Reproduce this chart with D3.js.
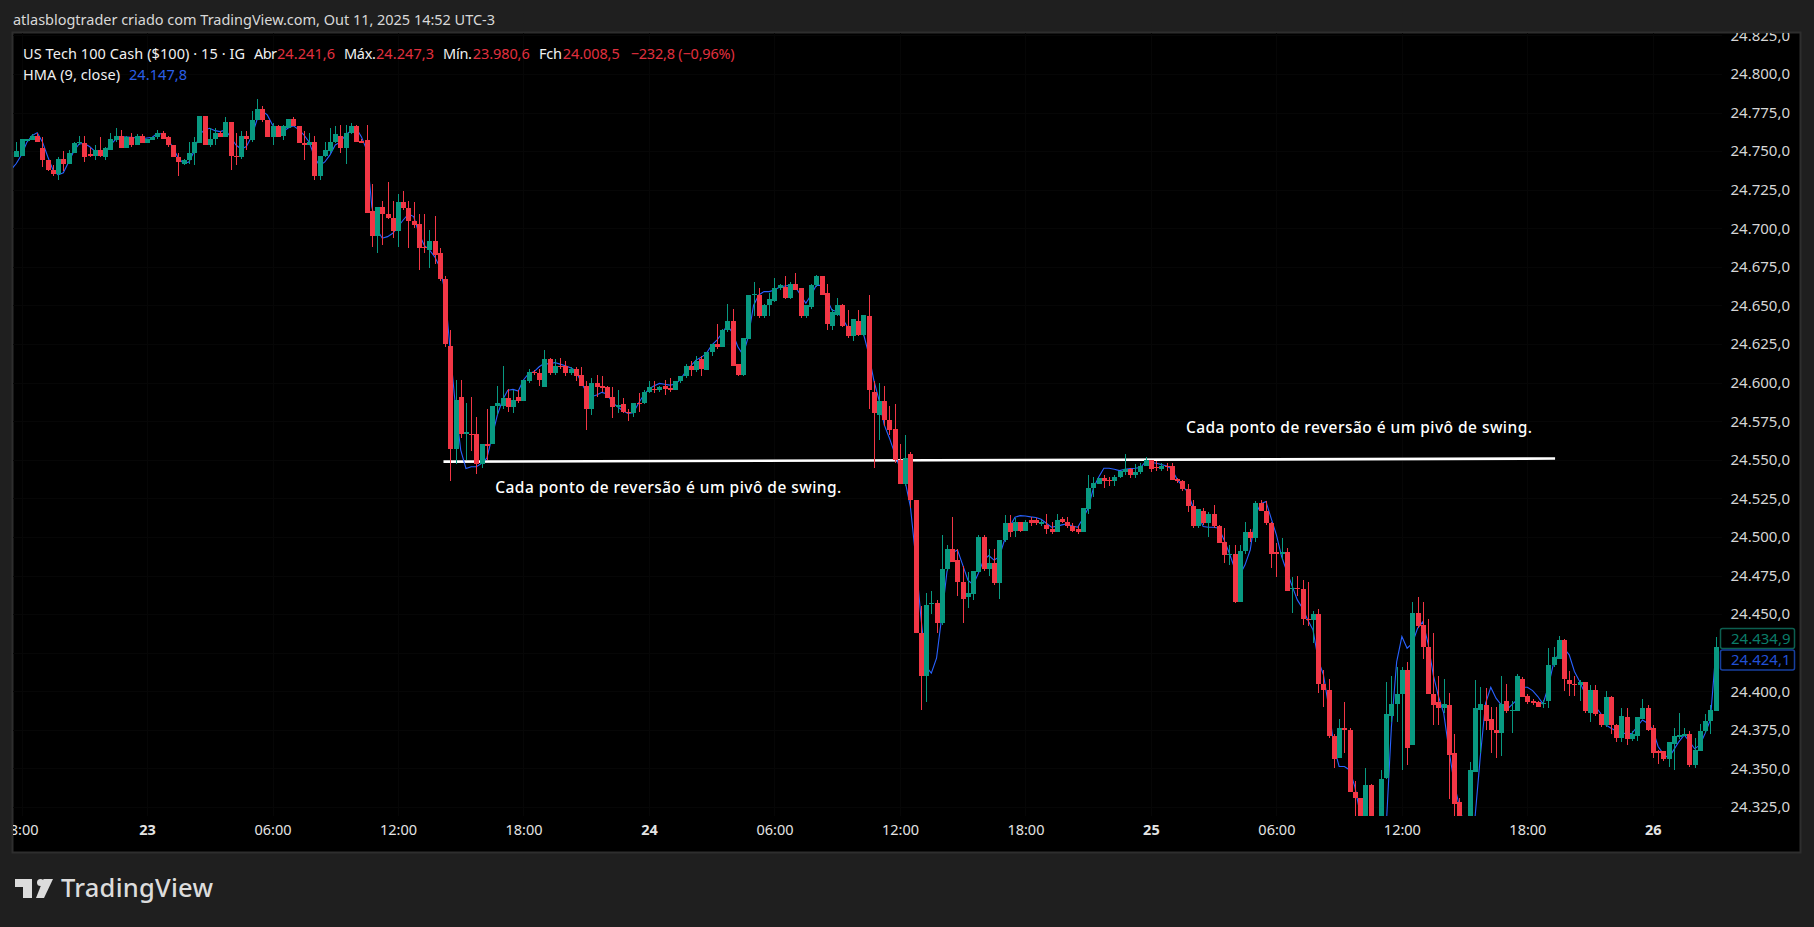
<!DOCTYPE html>
<html><head><meta charset="utf-8">
<style>html,body{margin:0;padding:0;background:#1f1f1f;overflow:hidden}svg{display:block}text{font-family:"Noto Sans",sans-serif}</style>
<script src="https://d3js.org/d3.v7.min.js"></script></head><body><svg id="c" width="1814" height="927"></svg>
<script>
const open=[24746,24747,24756.5,24757,24760,24752,24744,24738,24735,24745,
24742,24749,24755,24755,24748,24747,24751,24746,24751,24757,
24760,24752,24759,24754,24760,24755,24757,24759,24762,24759,
24754,24746,24742,24744,24749,24755,24773,24754,24758,24762,
24759,24769,24747,24746,24760,24757,24770,24777,24770,24759,
24766,24760,24765,24771,24766,24755,24754,24756,24734,24747,
24750,24756,24760,24752,24762,24766,24756.5,24757,24711,24695,
24714,24709,24707,24698,24717,24713,24705,24703,24688,24686,
24692,24684,24667,24624,24557,24591,24567,24567,24567,24547,
24560,24560,24585,24585,24590,24584,24591,24588,24601,24607,
24606,24597,24615,24606,24611,24611,24606,24609,24605,24598,
24583,24600,24597.5,24597,24591,24585,24586,24581,24580,24587,
24587,24594,24596,24595,24598,24596.5,24595,24601,24604,24611,
24608,24615,24608,24620,24625,24623,24634,24640,24612,24605,
24628,24656.8,24657,24643,24650,24653,24661,24662,24655,24664,
24661,24643,24649,24663,24669,24658,24637,24644,24650,24637,
24630,24640,24631,24643,24594,24579,24588,24576,24570,24550,
24534,24554,24524,24438,24410,24457,24457,24444,24479,24492,
24485,24471,24461,24463,24477,24500,24479,24483,24470,24498,
24509,24504,24510,24504,24511,24511,24509,24508,24505,24503,
24511.5,24510,24507,24505,24503,24518,24532,24534,24538,24537,
24536,24539,24542,24544,24540,24542,24546,24550,24545.5,24544,
24546,24546,24537.5,24536,24531,24520,24507,24517,24509,24515,
24507,24497,24488.5,24489,24458,24491,24503,24499,24522,24517,
24509,24490,24489.5,24490,24466,24467,24466,24447,24446,24450,
24405,24401,24371,24357,24376,24375,24335,24331,24315,24339,
24310,24305,24344,24384,24392,24398,24414,24365,24451,24443,
24429,24398,24393,24389,24391,24360,24328,24312,24310,24348,
24388,24391,24382,24375,24373,24394,24387.5,24387,24408,24397,
24393.5,24393,24392,24394,24417,24421,24433,24407,24405,24404,
24406,24386,24401,24385,24378,24396,24378,24370,24383,24369,
24371,24382,24389,24376,24361,24361,24356,24366,24371,24371,
24372,24352,24361,24374,24381,24387];
const high=[24756,24758,24758,24761,24762,24759,24744,24741,24746,24750,
24751,24756,24760,24760,24752,24754,24759,24753,24762,24765,
24764,24760,24762,24761,24761,24758,24759,24764,24763,24760,
24754,24749,24745,24756,24759,24773,24773,24765,24765,24763,
24772,24769,24762,24763,24763,24776,24784,24779,24770,24768,
24767,24767,24771,24772,24766,24763,24762,24760,24747,24756,
24765,24766,24767,24767,24768,24767,24758,24767,24729,24714,
24718,24730,24718,24722,24724,24718,24717,24709,24709,24699,
24708,24687,24669,24634,24602,24602,24587,24591,24578,24560,
24583,24585,24598,24611,24596,24595,24595,24602,24609,24608,
24609,24621,24616,24615,24616,24614,24610,24610,24610,24601,
24603,24605,24604,24598,24597,24595,24590,24583,24587,24593,
24595,24601,24601,24597.5,24602,24603,24601,24604,24612,24614,
24617,24617,24620,24625,24638,24635,24651,24648,24612,24629,
24657,24665,24661,24651,24658,24668,24664,24669,24665,24671,
24661,24650,24664,24670,24669,24664,24648,24655,24651,24647,
24641,24647,24644,24657,24601,24600,24598,24585,24586,24560,
24566,24555,24524,24455,24464,24465,24459,24501,24495,24513,
24492,24481,24477,24478,24501,24501,24492,24492,24498,24514,
24514,24512,24510,24511,24513,24512,24511,24515,24510,24515,
24513,24513,24509,24507,24519,24540,24539,24538,24540,24539,
24540,24543,24554,24545,24547,24548,24552,24550,24549,24548,
24548,24548,24538,24537,24534,24524,24518,24519,24516,24521,
24508,24506,24495,24495,24495,24510,24505,24523,24524,24523,
24510,24496,24499,24493,24474,24475,24472,24471,24452,24453,
24414,24408,24372,24382,24393,24376,24342,24331,24350,24340,
24316,24349,24406,24410,24416,24416,24419,24458,24461,24458,
24447,24438,24410,24408,24399,24372,24331,24316,24354,24407,
24403,24402,24390,24390,24410,24405,24394,24411,24409,24398,
24395,24394,24394.5,24428,24429,24436,24434,24413,24410,24407,
24406,24404,24404,24385,24400,24397,24379,24389,24389,24374,
24383,24395,24391,24378,24362,24361,24367,24376,24386,24376,
24374,24370,24379,24385,24391,24435];
const low=[24746,24747,24757,24757,24756,24740,24737,24734,24731,24737,
24742,24749,24754,24743,24746,24744,24746,24744,24751,24756,
24752,24752,24753,24754,24755,24755,24757,24758,24758,24753,
24746,24734,24741,24742,24741,24755,24754,24753,24754,24759,
24759,24738,24741,24745,24751,24756,24770,24769,24759,24754,
24759,24757,24765,24766,24755,24744,24754,24731,24731,24746,
24749,24755,24749,24742,24761,24756,24755,24710,24688,24684,
24689,24706,24694,24688,24712,24687,24700,24673,24684,24674,
24677,24666,24623,24536,24547,24564,24550,24556,24541,24545,
24550,24560,24579,24583,24581,24580,24587,24588,24600,24605,
24598,24597,24605,24605,24609,24604,24605,24601,24598,24569,
24579,24591,24594,24590,24577,24580,24580,24575,24578,24581,
24586,24593,24593,24594,24592,24594,24595,24600,24603,24604,
24607,24604,24608,24617,24622,24623,24633,24611,24604,24604,
24628,24643,24642,24642,24643,24652,24660,24654,24654,24660,
24642,24642,24648,24662,24657,24634,24634,24643,24636,24629,
24627,24630,24630,24583,24545,24563,24572,24566,24548,24534,
24533,24519,24438,24388,24393,24450,24438,24443,24478,24484,
24462,24444,24454,24459,24477,24478,24475,24469,24460,24497,
24500,24500,24503,24504,24507,24508,24507,24502,24502,24503,
24509,24506,24503,24502,24503,24515,24526,24534,24532,24533,
24533,24538,24540,24538,24538,24541,24546,24542,24543,24543,
24543,24537,24535,24530,24516,24506,24506,24508,24500,24506,
24496,24483,24482,24457,24458,24489,24497,24497,24517,24508,
24480,24474,24485,24465,24451,24462,24443,24442,24431,24399,
24390,24370,24350,24357,24360,24335,24315,24319,24310,24305,
24300,24300,24343,24380,24380,24349,24352,24365,24441,24421,
24398,24378,24378,24386,24330,24318,24310,24300,24305,24348,
24360,24375,24360,24357,24358,24386,24373,24387,24396,24392,
24391,24390,24389,24389,24416,24421,24400,24397,24397,24394,
24386,24380,24384,24377,24377,24372,24367,24367,24365,24368,
24368,24382,24374,24357,24353,24355,24351,24349,24369,24371,
24351,24350,24361,24373,24372,24387];
const close=[24750,24758,24758,24760,24756,24744,24738,24735,24745,24742,
24749,24755,24756,24746,24747,24751,24747,24752,24758,24760,
24752,24759,24754,24760,24755,24758,24759,24762,24758,24754,
24746,24743,24744,24749,24756,24773,24754,24758,24762,24759,
24769,24747,24746,24760,24758,24770,24777,24770,24759,24766,
24759,24766,24771,24766,24755,24754.5,24756,24734,24747,24751,
24756,24761,24752,24762,24766,24756,24756,24710,24695,24714,
24709,24707,24698,24717,24713,24705,24702,24687,24687,24692,
24683,24667,24625,24557,24589,24567,24568,24566.5,24547,24560,
24559.5,24585,24587,24590,24584,24589,24588,24602,24607,24606,
24602,24615,24606,24611,24610.5,24606,24609,24604,24598,24583,
24600,24597,24597,24590,24584,24585.5,24581,24580,24587,24586.5,
24594,24597,24595.5,24597,24596,24596,24601,24604,24611,24608,
24614,24609,24620,24625,24623,24634,24640,24611,24605,24629,
24657,24657.5,24643,24650,24654,24661,24663,24655,24664,24660,
24643,24650,24663,24669,24657,24638,24646,24650,24637,24630,
24641,24631,24644,24595,24580,24588,24576,24569,24550,24534,
24551,24524,24438,24410,24456,24457.5,24444,24479,24492,24484,
24471,24460,24464,24478,24500,24479,24483,24470,24498,24509,
24503,24510,24504,24510,24509,24509,24509.5,24505,24503,24511,
24509.5,24507,24504,24503,24519,24532,24535,24538,24536,24536.5,
24539,24543,24544,24540,24542,24546,24550,24544,24545,24546,
24545.5,24537,24536,24531,24520,24507,24518,24509,24515,24507,
24496,24488,24489,24458,24491,24503,24499,24522,24517,24509,
24489,24489.5,24490,24465,24467,24466,24447,24446,24450,24405,
24401,24371,24356,24376,24375,24335,24331,24319,24339,24310,
24305,24343,24385,24392,24398,24414,24363,24451,24442,24429,
24398,24391,24389,24392,24359,24327,24312,24310,24349,24389,
24392,24381,24375,24373,24392,24387,24388,24410,24396,24393,
24393,24390,24392.5,24417,24422,24433,24408,24405,24404,24406,
24387,24401,24385,24378,24396,24378,24370,24384,24369,24372,
24383,24389,24375,24360,24360.5,24356,24367,24371,24371.5,24372,
24352,24362,24374,24381,24388,24429];
// HMA(9); first value belongs to the bar before the first drawn candle
const hmaFirstBar=-1;
const hma=[24738,24742,24747.6,24755.6,24760,24762,24756,24746.5,24738,24734.6,
24736,24743,24750,24754.7,24755,24753,24750,24748,24749.7,24754,
24757.7,24759.4,24759.2,24759,24758.5,24758,24758.5,24759,24761.6,24761,
24757.7,24752,24745.4,24742,24743,24749.7,24760.5,24763.8,24764.8,24763.3,
24762.7,24763.8,24759,24754,24751.4,24753,24759.4,24770,24776,24773.5,
24767,24763.8,24762.7,24765,24766.4,24764,24760.5,24756,24746.5,24740.6,
24743,24747.6,24754,24756,24760.5,24763.3,24764.8,24759.4,24750.8,24714,
24699,24693.6,24694.6,24696.8,24701,24705.4,24709.3,24707.6,24696.8,24689,
24686,24681.7,24675,24659,24620,24584.4,24556.3,24544.4,24545.5,24545.5,
24547.7,24551,24565,24579,24588.7,24595,24595.6,24594.6,24601.7,24606,
24607,24610.3,24612.5,24612,24613,24612,24611,24609.7,24607.7,24600.6,
24594,24590.9,24592,24593.7,24592.6,24587,24584.4,24581.8,24580,24580.5,
24586.6,24592,24596,24598,24599.5,24599,24598.4,24599,24602,24607,
24610.8,24614.6,24616.4,24619,24624.4,24627.6,24632,24637.3,24632,24623.3,
24617.9,24629.8,24650,24656.8,24659,24659,24660,24662,24662.6,24663,
24662,24656.8,24651.4,24656.8,24663,24663,24654.6,24647,24646,24641.6,
24635.8,24634.5,24633.6,24632,24619,24601.7,24588.7,24572.6,24564,24554.2,
24544.5,24535.9,24519.7,24487,24448.4,24416,24411.7,24421.4,24448.4,24477.6,
24489.4,24491.6,24481.9,24472,24469,24476.5,24485,24488,24485,24487,
24498,24506.7,24512.8,24513.8,24513.6,24513,24512.6,24511.5,24508.9,24506.3,
24507,24507.8,24508.5,24507,24506.3,24512,24518.6,24531.6,24538.7,24544.5,
24544.5,24543.9,24543,24543.9,24544.3,24544.5,24545,24548.8,24548.4,24547.8,
24546.9,24546,24544,24537.4,24533,24529.4,24519.7,24514.3,24506.7,24506.3,
24506.3,24505.6,24498,24489.4,24479.7,24475.4,24481.9,24491.6,24514.3,24521.4,
24523,24512,24501.3,24487.3,24477.6,24468.3,24459.2,24453.8,24446.2,24439.8,
24420.3,24410.6,24390,24364,24351.2,24351.2,24349,24338.2,24321,24305.8,
24297,24290.7,24297,24312,24377,24419,24435.4,24427.9,24431,24440.8,
24445,24431,24410.6,24396.6,24385.8,24362,24340.4,24325.3,24312.3,24308,
24318.8,24357.7,24392.2,24402.6,24395.5,24391.2,24387.9,24391.2,24394.4,24402.6,
24402.6,24400.4,24396.6,24391.8,24403,24418,24424.6,24427.9,24423.6,24412.8,
24406.3,24398.7,24394.4,24390,24385.8,24378.2,24376,24374.3,24373.4,24372.2,
24372.8,24377,24381.4,24379.3,24375,24364.2,24359.4,24356.6,24362,24367.4,
24371.7,24367.4,24362.7,24365.2,24372.8,24381.4,24424];
const gridPrices=[24825,24800,24775,24750,24725,24700,24675,24650,24625,24600,24575,24550,24525,24500,24475,24450,24425,24400,24375,24350,24325];
const priceTicks=[24825,24800,24775,24750,24725,24700,24675,24650,24625,24600,24575,24550,24525,24500,24475,24450,24400,24375,24350,24325];
const timeBars=[1,25,49,73,97,121,145,169,193,217,241,265,289,313];
const timeLabels=["18:00","23","06:00","12:00","18:00","24","06:00","12:00","18:00","25","06:00","12:00","18:00","26"];
const dayLabels=["23","24","25","26"];
const trendBars=[81.7,294.3];
const trendPrices=[24548.8,24550.8];
const noteText="Cada ponto de reversão é um pivô de swing.";
const noteBars=[91.6,223.7];
const notePrices=[24532,24571];
const lastPrices=[24434.9,24424.1];
const lastLabels=["24.434,9","24.424,1"];

const RED="#F23645",GREEN="#089981",BLUE="#2962FF";
const svg=d3.select("#c");
const fmt=d3.formatLocale({decimal:",",thousands:".",grouping:[3],currency:["",""]}).format(",.1f");
const x=d3.scaleLinear().domain([0,325]).range([16.3,1715.6]);
const y=d3.scaleLinear().domain([24800,24325]).range([74,807]);
const PL=13,PR=1800,PT=33,PB=852,CR=1722,CB=816;
const defs=svg.append("defs");
defs.append("clipPath").attr("id","pane").append("rect").attr("x",PL).attr("y",PT).attr("width",PR-PL).attr("height",PB-PT);
defs.append("clipPath").attr("id","plot").append("rect").attr("x",PL).attr("y",PT).attr("width",CR-PL).attr("height",CB-PT);
svg.append("rect").attr("width",1814).attr("height",927).attr("fill","#1f1f1f");
svg.append("rect").attr("x",PL-0.5).attr("y",PT-0.5).attr("width",PR-PL+1).attr("height",PB-PT+1).attr("fill","#000").attr("stroke","#2e2e2e").attr("stroke-width",2);
// grid
const plot=svg.append("g").attr("clip-path","url(#plot)");
plot.append("g").selectAll("line").data(gridPrices).join("line").attr("x1",PL).attr("x2",CR).attr("y1",d=>Math.round(y(d))+.5).attr("y2",d=>Math.round(y(d))+.5).attr("stroke","#060606");
plot.append("g").selectAll("line").data(timeBars).join("line").attr("y1",PT).attr("y2",CB).attr("x1",d=>Math.round(x(d))+.5).attr("x2",d=>Math.round(x(d))+.5).attr("stroke","#060606");
// trend line (under the candles)
plot.append("line").attr("x1",x(trendBars[0])).attr("x2",x(trendBars[1])).attr("y1",y(trendPrices[0])).attr("y2",y(trendPrices[1])).attr("stroke","#fff").attr("stroke-width",2.6);
// HMA
plot.append("path").datum(hma).attr("fill","none").attr("stroke",BLUE).attr("stroke-width",1.1)
 .attr("d",d3.line().x((d,i)=>x(i+hmaFirstBar)).y(d=>y(d)));
// candles
const bars=d3.range(open.length);
const col=i=>close[i]>=open[i]?GREEN:RED;
const g=plot.append("g").attr("shape-rendering","crispEdges");
g.selectAll(".w").data(bars).join("line").attr("class","w")
 .attr("x1",i=>Math.round(x(i))+.5).attr("x2",i=>Math.round(x(i))+.5)
 .attr("y1",i=>y(high[i])).attr("y2",i=>y(low[i])).attr("stroke",col);
g.selectAll(".b").data(bars).join("rect").attr("class","b")
 .attr("x",i=>Math.round(x(i))-2).attr("width",5)
 .attr("y",i=>y(Math.max(open[i],close[i])))
 .attr("height",i=>Math.max(1.5,Math.abs(y(open[i])-y(close[i])))).attr("fill",col);
// notes
svg.append("g").selectAll("text").data(noteBars).join("text").attr("x",d=>x(d)).attr("y",(d,i)=>y(notePrices[i])).attr("dy","0.35em")
 .attr("fill","#fff").attr("font-size",15.5).attr("font-weight",500).attr("textLength",346).attr("lengthAdjust","spacing").text(noteText);
// axes
const pane=svg.append("g").attr("clip-path","url(#pane)");
const yAxis=pane.append("g").attr("transform","translate(1790,0)").call(d3.axisLeft(y).tickValues(priceTicks).tickFormat(fmt).tickSize(0).tickPadding(0));
yAxis.select(".domain").remove();
yAxis.selectAll("text").attr("fill","#d6d6d6").attr("font-size",15).attr("font-family",'"Noto Sans",sans-serif');
const xAxis=pane.append("g").attr("transform","translate(0,825)").call(d3.axisBottom(x).tickValues(timeBars).tickFormat((d,i)=>timeLabels[i]).tickSize(0).tickPadding(0));
xAxis.select(".domain").remove();
xAxis.selectAll("text").attr("fill","#e4e4e4").attr("font-size",14.5).attr("font-family",'"Noto Sans",sans-serif')
 .attr("transform",(d,i)=>i==0?"translate(-2,0)":null)
 .attr("font-weight",(d,i)=>dayLabels.includes(timeLabels[i])?700:400);
// last price labels
const lastCols=[["#0c5f50","#0b7d69"],["#173f9e","#2150d4"]];
lastPrices.forEach((p,i)=>{
 const cy=i==0?638.5:660;
 svg.append("rect").attr("x",1720.5).attr("y",cy-10).attr("width",74).attr("height",20).attr("rx",2).attr("fill","#000").attr("stroke",lastCols[i][0]).attr("stroke-width",1.5);
 svg.append("text").attr("x",1790.5).attr("y",cy).attr("dy","0.35em").attr("text-anchor","end").attr("font-size",15).attr("fill",lastCols[i][1]).text(lastLabels[i]);
});
// header & legend
const T=(s,px,py,fill,size,len,w)=>{const t=svg.append("text").attr("x",px).attr("y",py).attr("fill",fill).attr("font-size",size).text(s);if(len)t.attr("textLength",len).attr("lengthAdjust","spacing");if(w)t.attr("font-weight",w);return t;};
T("atlasblogtrader criado com TradingView.com, Out 11, 2025 14:52 UTC-3",13,25,"#d8d8d8",14.5,482);
const W="#f0f0f0",R="#e0303f";
T("US Tech 100 Cash ($100) · 15 · IG",23,59,W,14.5,222);
T("Abr",254,59,W,14.5,23);T("24.241,6",277,59,R,14.5,58);
T("Máx.",344,59,W,14.5,32);T("24.247,3",376,59,R,14.5,58);
T("Mín.",443,59,W,14.5,29);T("23.980,6",472.7,59,R,14.5,57);
T("Fch",539,59,W,14.5,23);T("24.008,5",562.7,59,R,14.5,57);
T("−232,8 (−0,96%)",630.7,59,R,14.5,104);
T("HMA (9, close)",23,80,W,14.5,97);T("24.147,8",129,80,"#2a5fe8",14.5,58);
// logo
const logo=svg.append("g").attr("fill","#dcdcdc");
logo.append("path").attr("d","M15 879H32V898H23V887H15Z");
logo.append("circle").attr("cx",40.5).attr("cy",882.5).attr("r",3.5);
logo.append("path").attr("d","M43.5 879H53L44 898H36Z");
T("TradingView",61,897,"#dcdcdc",25.5,152,500);
</script></body></html>
